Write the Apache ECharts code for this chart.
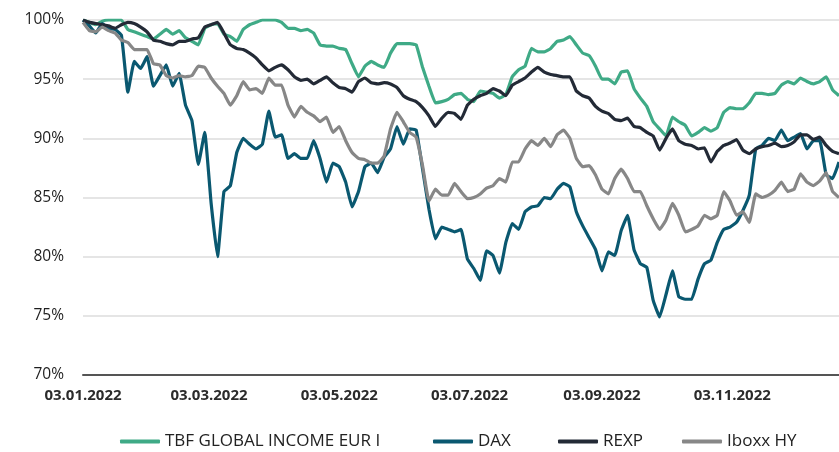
<!DOCTYPE html>
<html>
<head>
<meta charset="utf-8">
<script src="https://cdn.jsdelivr.net/npm/echarts@6/dist/echarts.min.js"></script>
<style>
  html, body { margin: 0; padding: 0; background: #fff; }
  #chart { width: 839px; height: 452px; }
</style>
</head>
<body>
<div id="chart"></div>
<script>
// x positions are days since 03.01.2022, sampled every 3rd calendar day
const startDate = Date.UTC(2022, 0, 3)
const dayMs = 86400000
const sampleCount = 119
const days = []
for (let i = 0; i < sampleCount; i++) days.push(i * 3)

const labelDates = ['2022-01-03', '2022-03-03', '2022-05-03', '2022-07-03', '2022-09-03', '2022-11-03']

const seriesNames = ['TBF GLOBAL INCOME EUR I', 'DAX', 'REXP', 'Iboxx HY']

const tbf = [
  100, 99.8, 99.6, 99.9, 100, 100, 100, 99.2, 99.0, 98.8,
  98.6, 98.4, 98.8, 99.2, 98.8, 99.1, 98.5, 98.2, 97.9, 99.3,
  99.6, 99.7, 98.8, 98.6, 98.2, 99.2, 99.6, 99.8, 100, 100,
  100, 99.8, 99.3, 99.3, 99.1, 99.2, 98.9, 97.9, 97.8, 97.8,
  97.6, 97.5, 96.3, 95.2, 96.1, 96.5, 96.2, 96.0, 97.2, 98.0,
  98.0, 98.0, 97.9, 96.0, 94.4, 93.0, 93.1, 93.3, 93.7, 93.8,
  93.3, 93.1, 94.0, 93.9, 93.8, 93.4, 93.7, 95.2, 95.8, 96.1,
  97.6, 97.3, 97.3, 97.6, 98.2, 98.3, 98.6, 97.9, 97.2, 97.0,
  96.1, 95.0, 95.0, 94.6, 95.6, 95.7, 94.2, 93.4, 92.7, 91.4,
  90.8, 90.2, 91.8, 91.4, 91.1, 90.2, 90.5, 90.9, 90.6, 90.9,
  92.2, 92.6, 92.5, 92.5, 93.0, 93.8, 93.8, 93.7, 93.8, 94.5,
  94.8, 94.6, 95.1, 94.8, 94.6, 94.8, 95.2, 94.1, 93.6
]

const dax = [
  100, 99.5, 98.9, 99.7, 99.3, 99.2, 98.7, 93.9, 96.5, 95.9,
  96.9, 94.4, 95.3, 96.2, 94.4, 95.5, 92.8, 91.5, 87.8, 90.5,
  84.5, 80.0, 85.5, 86.0, 88.8, 90.0, 89.5, 89.1, 89.5, 92.3,
  90.1, 90.3, 88.3, 88.7, 88.3, 88.3, 89.8, 88.3, 86.3, 87.9,
  87.6, 86.3, 84.2, 85.5, 87.6, 87.9, 87.1, 88.4, 89.1, 91.0,
  89.5, 90.8, 90.7, 87.4, 84.0, 81.5, 82.5, 82.3, 82.1, 82.3,
  79.8, 79.0, 78.0, 80.5, 80.1, 78.6, 81.2, 82.8, 82.3, 83.8,
  84.2, 84.3, 85.0, 84.9, 85.7, 86.2, 85.9, 83.8, 82.6, 81.6,
  80.6, 78.8, 80.4, 80.1, 82.2, 83.5, 80.6, 79.4, 79.1, 76.3,
  74.9, 76.8, 78.8, 76.6, 76.4, 76.4, 78.1, 79.4, 79.7, 81.2,
  82.3, 82.5, 82.9, 83.9, 85.2, 89.1, 89.4, 90.0, 89.8, 90.7,
  89.8, 90.1, 90.4, 89.1, 89.8, 89.8, 86.9, 86.6, 88.0
]

const rexp = [
  100, 99.8, 99.7, 99.6, 99.5, 99.3, 99.6, 99.8, 99.7, 99.4,
  99.0, 98.3, 98.2, 98.0, 97.9, 98.2, 98.2, 98.4, 98.5, 99.4,
  99.6, 99.8, 98.9, 97.9, 97.6, 97.5, 97.2, 96.8, 96.2, 95.7,
  96.0, 96.2, 95.8, 95.2, 94.9, 95.0, 94.6, 94.9, 95.2, 94.7,
  94.3, 94.2, 93.9, 94.8, 95.1, 94.7, 94.6, 94.7, 94.6, 94.3,
  93.6, 93.3, 93.1, 92.6, 91.9, 91.0, 91.7, 92.2, 92.1, 91.6,
  92.8, 93.3, 93.6, 93.8, 94.2, 94.0, 93.6, 94.5, 94.8, 95.1,
  95.6, 96.0, 95.6, 95.4, 95.3, 95.2, 95.2, 94.0, 93.6, 93.4,
  92.7, 92.3, 92.1, 91.6, 91.5, 91.7, 91.0, 90.9, 90.5, 90.2,
  89.0, 90.0, 90.8, 89.8, 89.5, 89.4, 89.1, 89.2, 88.0, 88.9,
  89.4, 89.6, 89.9, 89.0, 88.7, 89.1, 89.3, 89.4, 89.6, 89.3,
  89.4, 89.7, 90.3, 90.3, 89.9, 90.1, 89.4, 88.9, 88.7
]

const iboxx = [
  99.8, 99.1, 99.0, 99.4, 99.1, 98.9, 98.3, 98.1, 97.5, 97.5,
  97.5, 96.3, 96.2, 95.3, 95.1, 95.3, 95.2, 95.3, 96.1, 96.0,
  95.1, 94.4, 93.8, 92.8, 93.6, 94.8, 94.1, 94.2, 93.8, 95.1,
  94.5, 94.5, 92.8, 91.8, 92.7, 92.2, 91.9, 91.4, 91.8, 90.5,
  91.0, 89.8, 88.8, 88.3, 88.2, 87.9, 87.9, 88.5, 90.8, 92.2,
  91.4, 90.5, 90.1, 87.7, 84.7, 85.7, 85.2, 85.2, 86.2, 85.5,
  84.9, 85.0, 85.3, 85.8, 86.0, 86.6, 86.3, 88.0, 88.0, 89.1,
  89.8, 89.4, 90.0, 89.3, 90.3, 90.7, 90.0, 88.3, 87.6, 87.7,
  86.9, 85.7, 85.3, 86.6, 87.4, 86.6, 85.5, 85.5, 84.3, 83.2,
  82.3, 83.1, 84.5, 83.5, 82.1, 82.3, 82.6, 83.5, 83.2, 83.5,
  85.5, 84.7, 83.5, 83.8, 82.9, 85.3, 85.0, 85.2, 85.6, 86.3,
  85.5, 85.7, 87.0, 86.3, 86.0, 86.4, 87.1, 85.5, 85.0
]

const colors = ['#3faa86', '#0a5870', '#232a36', '#878787']

function dayOf(s) {
  const p = s.split('-')
  return Math.round((Date.UTC(+p[0], +p[1] - 1, +p[2]) - startDate) / dayMs)
}

function fmtDay(v) {
  const d = new Date(startDate + v * dayMs)
  const dd = String(d.getUTCDate()).padStart(2, '0')
  const mm = String(d.getUTCMonth() + 1).padStart(2, '0')
  return dd + '.' + mm + '.' + d.getUTCFullYear()
}

function pairs(values) {
  return values.map((v, i) => [days[i], v])
}

// one legend per item, placed where the reference has them
const legendLefts = [115, 428, 553, 677]

const chart = echarts.init(document.getElementById('chart'))

const option = {
  animation: false,
  backgroundColor: '#fff',
  color: colors,
  textStyle: { fontFamily: 'Open Sans' },
  grid: {
    left: 83,
    right: 0,
    top: 20,
    bottom: 77
  },
  legend: seriesNames.map((n, i) => ({
    left: legendLefts[i],
    top: 428,
    icon: 'roundRect',
    itemWidth: 40,
    itemHeight: 4,
    textStyle: {
      fontSize: 17,
      color: '#222',
      fontFamily: 'Open Sans'
    },
    data: [n]
  })),
  xAxis: {
    type: 'value',
    min: 0,
    max: days[days.length - 1],
    axisLine: {
      lineStyle: { color: '#555', width: 2 }
    },
    axisTick: { show: false },
    splitLine: { show: false },
    axisLabel: {
      customValues: labelDates.map(dayOf),
      formatter: fmtDay,
      margin: 13,
      fontSize: 15,
      fontWeight: 'bold',
      color: '#2b2b2b'
    }
  },
  yAxis: {
    type: 'value',
    min: 70,
    max: 100,
    interval: 5,
    axisLine: { show: false },
    axisTick: { show: false },
    axisLabel: {
      formatter: '{value}%',
      margin: 19,
      fontSize: 15.5,
      color: '#1e1e1e'
    },
    splitLine: {
      lineStyle: { color: '#dcdcdc', width: 1.5 }
    }
  },
  series: [
    { name: seriesNames[0], type: 'line', data: pairs(tbf) },
    { name: seriesNames[1], type: 'line', data: pairs(dax) },
    { name: seriesNames[2], type: 'line', data: pairs(rexp) },
    { name: seriesNames[3], type: 'line', data: pairs(iboxx) }
  ].map(s => Object.assign(s, {
    showSymbol: false,
    smooth: 0.1,
    lineStyle: { width: 3.2 },
    emphasis: { disabled: true }
  }))
}

chart.setOption(option)
</script>
</body>
</html>
